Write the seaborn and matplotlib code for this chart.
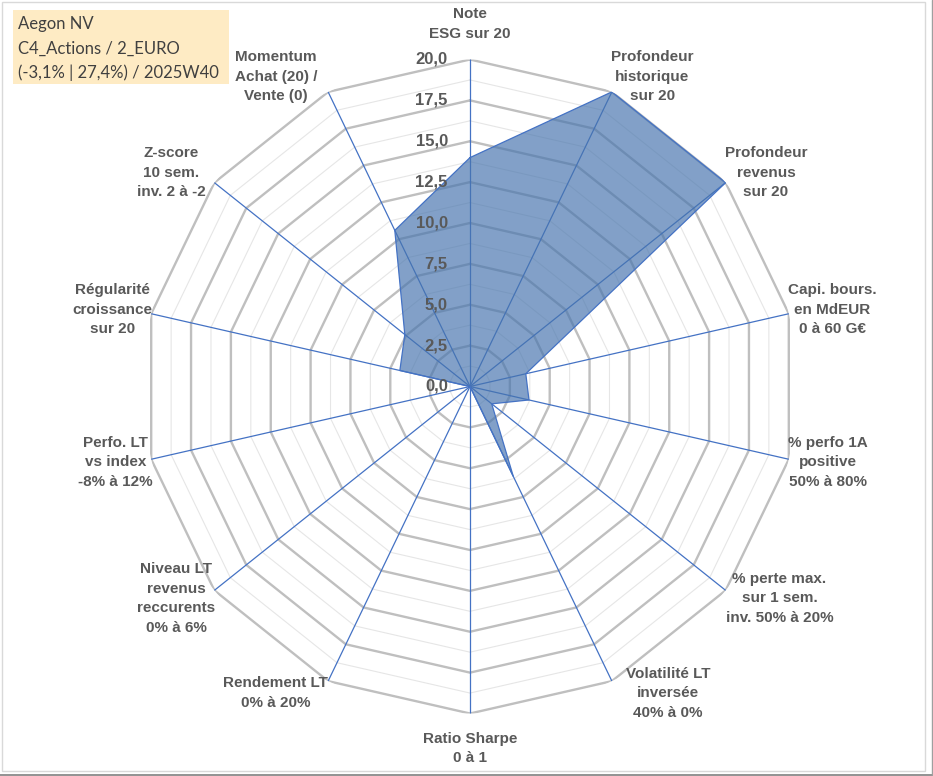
import numpy as np
import matplotlib
matplotlib.use("Agg")
import matplotlib.pyplot as plt
import seaborn as sns
from matplotlib.patches import Rectangle
from matplotlib.lines import Line2D

# ---------------- data ----------------
categories = [
    "Note\nESG sur 20",
    "Profondeur\nhistorique\nsur 20",
    "Profondeur\nrevenus\nsur 20",
    "Capi. bours.\nen MdEUR\n0 à 60 G€",
    "% perfo 1A\npositive\n50% à 80%",
    "% perte max.\nsur 1 sem.\ninv. 50% à 20%",
    "Volatilité LT\ninversée\n40% à 0%",
    "Ratio Sharpe\n0 à 1",
    "Rendement LT\n0% à 20%",
    "Niveau LT\nrevenus\nreccurents\n0% à 6%",
    "Perfo. LT\nvs index\n-8% à 12%",
    "Régularité\ncroissance\nsur 20",
    "Z-score\n10 sem.\ninv. 2 à -2",
    "Momentum\nAchat (20) /\nVente (0)",
]
values = [14.0, 20.0, 20.0, 3.5, 3.7, 1.7, 6.1, 0.0, 0.0, 0.0, 0.0, 4.4, 5.1, 10.6]
tick_values = [0.0, 2.5, 5.0, 7.5, 10.0, 12.5, 15.0, 17.5, 20.0]
tick_labels = ["0,0", "2,5", "5,0", "7,5", "10,0", "12,5", "15,0", "17,5", "20,0"]
title_lines = ["Aegon NV", "C4_Actions / 2_EURO", "(-3,1% | 27,4%) / 2025W40"]

# ---------------- layout (label anchor offsets from spoke tip, px) ----------------
label_layout = [
    ("center", 0, -35.5), ("left", -1, -15), ("left", -1, -10), ("left", -1, -4),
    ("left", -1, 3), ("left", 0, 8), ("left", 14, 12), ("center", 0, 35),
    ("right", 0, 12), ("right", 1, 8), ("right", 1.5, 3), ("right", 1.5, -4),
    ("right", -9, -10), ("right", -11, -15),
]

# ---------------- style ----------------
sns.set_theme(style="white")
LAB_FONT = ["Liberation Sans", "DejaVu Sans"]
plt.rcParams["font.family"] = LAB_FONT

W, H = 933, 776
fig = plt.figure(figsize=(W / 100, H / 100), dpi=100)
fig.patch.set_facecolor("white")

cx, cy, R = 470, 386.5, 327
ax = fig.add_axes([(cx - R) / W, 1 - (cy + R) / H, 2 * R / W, 2 * R / H],
                  projection="polar")
ax.set_theta_zero_location("N")
ax.set_theta_direction(-1)
ax.set_ylim(0, 20)
ax.grid(False)
ax.spines["polar"].set_visible(False)
ax.patch.set_alpha(0)

n = len(categories)
theta = np.linspace(0, 2 * np.pi, n, endpoint=False)
theta_c = np.append(theta, theta[0] + 2 * np.pi)

# minor rings
for k in range(len(tick_values) - 1):
    lvl = (tick_values[k] + tick_values[k + 1]) / 2
    ax.plot(theta_c, [lvl] * (n + 1), color="#E6E6E6", lw=0.8, zorder=1)
# major rings
for lvl in tick_values[1:]:
    ax.plot(theta_c, [lvl] * (n + 1), color="#BFBFBF", lw=1.7, zorder=1.5)
# spokes
for t in theta:
    ax.plot([t, t], [0, 20], color="#4472C4", lw=0.9, zorder=2)

# data polygon
vals_c = values + [values[0]]
ax.fill(theta_c, vals_c, color="#4774AE", alpha=0.68, lw=0, zorder=3)
sns.lineplot(x=theta_c, y=vals_c, sort=False, estimator=None, ax=ax,
             color="#4472C4", lw=0.9, zorder=4)
ax.set_xlabel("")
ax.set_ylabel("")
ax.set_xticks([])
ax.set_yticks([])

# radial tick labels
for v, lab in zip(tick_values, tick_labels):
    ax.annotate(lab, xy=(0, v), xytext=(-16, 0), textcoords="offset points",
                ha="right", va="center", fontsize=12, fontweight="bold",
                color="#595959", zorder=6, annotation_clip=False,
                family=LAB_FONT)

# category labels
for t, lab, (ha, dx, dy) in zip(theta, categories, label_layout):
    ax.annotate(lab, xy=(t, 20), xytext=(dx * 0.72, -dy * 0.72),
                textcoords="offset points", ha=ha, va="center",
                multialignment="center", fontsize=11, fontweight="bold",
                color="#595959", linespacing=1.5, annotation_clip=False,
                family=LAB_FONT)

# info box
fig.patches.append(Rectangle((13 / W, 1 - 84 / H), 216 / W, 74 / H,
                             transform=fig.transFigure, facecolor="#FEEBC4",
                             edgecolor="none", zorder=0))
for yy, line in zip([24, 49, 72.5], title_lines):
    fig.text(18 / W, 1 - yy / H, line, ha="left", va="center", fontsize=12,
             color="#404040", family=["Lato", "DejaVu Sans"])

# chart frame
fig.patches.append(Rectangle((2 / W, 1 - 771 / H), 923 / W, 769 / H,
                             transform=fig.transFigure, facecolor="none",
                             edgecolor="#D9D9D9", lw=1, zorder=0))
fig.lines.append(Line2D([0, 1], [1 - 775 / H] * 2, transform=fig.transFigure,
                        color="#7F7F7F", lw=1.2))
fig.lines.append(Line2D([931.5 / W] * 2, [0, 1], transform=fig.transFigure,
                        color="#9F9F9F", lw=1.0))

fig.savefig("out.png", dpi=100, facecolor="white")
